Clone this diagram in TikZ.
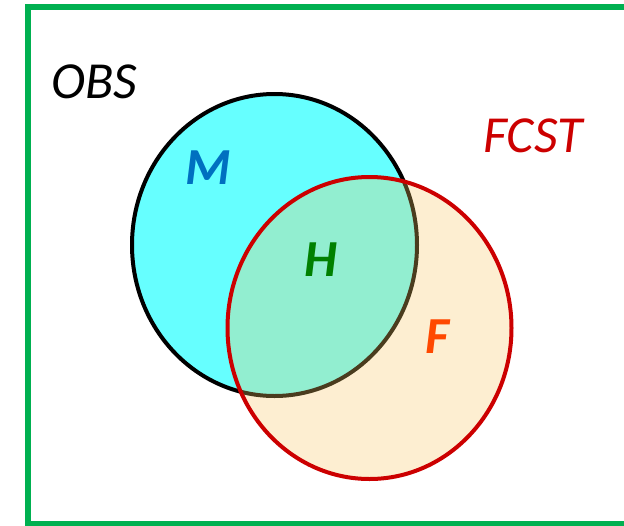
\documentclass[tikz,border=0pt]{standalone}
\usepackage{fontspec}
\setmainfont{Carlito}
\definecolor{obsgreen}{RGB}{0,176,80}
\definecolor{mfill}{RGB}{102,255,255}
\definecolor{ffill}{RGB}{248,200,102}
\definecolor{fline}{RGB}{204,0,0}
\definecolor{mblue}{RGB}{0,112,192}
\definecolor{hgreen}{RGB}{0,128,0}
\definecolor{forange}{RGB}{255,72,0}
\tikzset{
  setlabel/.style={inner sep=0pt, font=\fontsize{52}{60}\selectfont\itshape},
  regionlabel/.style={inner sep=0pt, font=\fontsize{52}{60}\selectfont\bfseries\itshape},
}
\begin{document}
\begin{tikzpicture}[x=1pt,y=-1pt]
  \useasboundingbox (0,0) rectangle (624,525);
  \clip (0,0) rectangle (624,525);
  % observation frame
  \draw[obsgreen, line width=6pt] (28,7) rectangle (660,524);
  % missed-event set
  \draw[fill=mfill, line width=4pt] (274.5,245) ellipse [x radius=142.5, y radius=151];
  % forecast set, translucent over the first
  \fill[ffill, fill opacity=0.3] (369.5,328) ellipse [x radius=142, y radius=151];
  \draw[fline, line width=4pt] (369.5,328) ellipse [x radius=142, y radius=151];
  % labels
  \node[setlabel] (obs) at (94.5,81.5) {OBS};
  \node[setlabel, text=fline] (fcst) at (533,136) {FCST};
  \node[regionlabel, text=mblue] (m) at (208,168) {M};
  \node[regionlabel, text=hgreen] (h) at (321,260) {H};
  \node[regionlabel, text=forange] (f) at (437,337) {F};
\end{tikzpicture}
\end{document}
